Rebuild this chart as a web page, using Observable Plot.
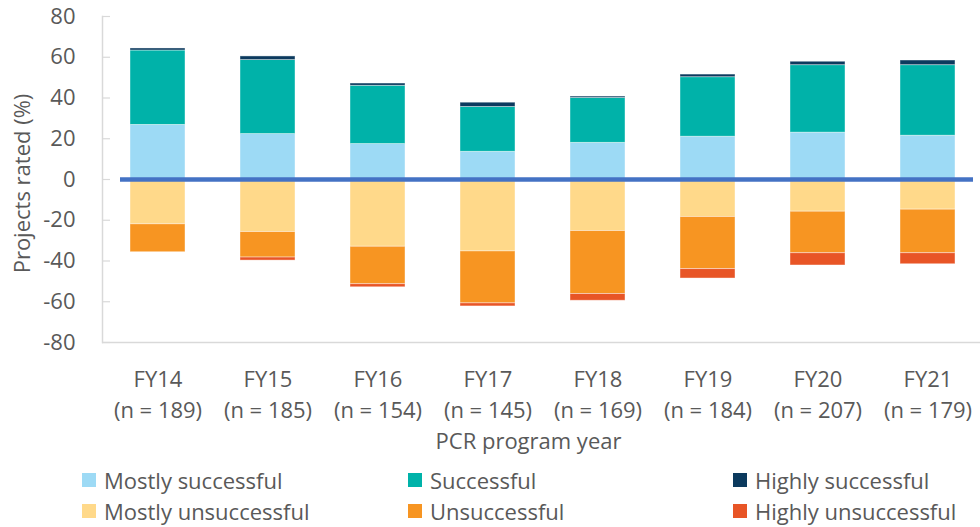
<!DOCTYPE html>
<html>
<head>
<meta charset="utf-8">
<script src="https://cdn.jsdelivr.net/npm/d3@7"></script>
<script src="https://cdn.jsdelivr.net/npm/@observablehq/plot@0.6"></script>
<style>
  html, body { margin: 0; padding: 0; background: #fff; }
  #wrap { position: relative; width: 980px; height: 527px; font-family: "Open Sans", sans-serif; color: #595959; }
  .item { position: absolute; display: flex; align-items: center; height: 30px; font-size: 22px; white-space: nowrap; }
  .sw { width: 14px; height: 14px; margin-right: 8px; }
</style>
</head>
<body>
<div id="wrap"></div>
<script>
const years = ["FY14", "FY15", "FY16", "FY17", "FY18", "FY19", "FY20", "FY21"];
const sampleSizes = [189, 185, 154, 145, 169, 184, 207, 179];

const mostlySuccessful   = [26.8, 22.3, 17.4, 13.6, 18.0, 21.0, 23.0, 21.5];
const successful         = [36.5, 36.3, 28.6, 22.0, 22.0, 29.2, 33.1, 34.6];
const highlySuccessful   = [1.0, 1.8, 1.1, 2.1, 0.7, 1.3, 1.7, 2.3];
const mostlyUnsuccessful = [22.0, 25.8, 33.0, 35.3, 25.3, 18.4, 15.8, 14.8];
const unsuccessful       = [13.7, 12.5, 18.4, 25.5, 30.9, 25.6, 20.4, 21.4];
const highlyUnsuccessful = [0.0, 1.5, 1.5, 1.5, 3.3, 4.6, 6.0, 5.4];

const seriesNames = ["Mostly successful", "Successful", "Highly successful",
                     "Mostly unsuccessful", "Unsuccessful", "Highly unsuccessful"];
const seriesColors = ["#9DDAF5", "#00B2A9", "#0C3A5E", "#FFD98A", "#F79522", "#E85526"];
const seriesValues = [mostlySuccessful, successful, highlySuccessful,
                      mostlyUnsuccessful, unsuccessful, highlyUnsuccessful];
const seriesSign = [1, 1, 1, -1, -1, -1];

const yTicks = [-80, -60, -40, -20, 0, 20, 40, 60, 80];
const yTitle = "Projects rated (%)";
const xTitle = "PCR program year";

const rows = [];
seriesNames.forEach((s, i) => {
  years.forEach((y, j) => rows.push({year: y, series: s, value: seriesSign[i] * seriesValues[i][j]}));
});

const FS = 22;

const chart = Plot.plot({
  width: 980,
  height: 462,
  marginLeft: 102,
  marginRight: 0,
  marginTop: 16,
  marginBottom: 120,
  style: {fontFamily: "'Open Sans', sans-serif", color: "#595959", background: "white", overflow: "hidden"},
  x: {domain: years, range: [99.6, 985.3], paddingInner: 0.5, paddingOuter: 0.25},
  y: {domain: [-80, 80]},
  color: {domain: seriesNames, range: seriesColors},
  marks: [
    Plot.frame({anchor: "left", stroke: "#d9d9d9", strokeWidth: 1.5}),
    Plot.ruleY([-80], {stroke: "#d9d9d9", strokeWidth: 1.5}),
    Plot.ruleY(yTicks, {stroke: "#d9d9d9", strokeWidth: 1.2, insetRight: 980 - 102 - 8}),
    Plot.axisY({ticks: yTicks, tickSize: 0, tickPadding: 27, fontSize: FS, label: null,
      tickFormat: d => String(d)}),
    Plot.axisX({tickSize: 0, tickPadding: 22, fontSize: FS, lineHeight: 1.42, label: null,
      tickFormat: d => `${d}\n(n = ${sampleSizes[years.indexOf(d)]})`}),
    Plot.barY(rows, Plot.stackY({x: "year", y: "value", fill: "series", order: seriesNames,
      stroke: "white", strokeOpacity: 0.5, strokeWidth: 0.8})),
    Plot.ruleY([0], {stroke: "#4472C4", strokeWidth: 4.5, insetLeft: 18, insetRight: 7}),
    Plot.text([yTitle], {frameAnchor: "left", textAnchor: "middle", lineAnchor: "middle", rotate: -90, dx: -80, dy: 4, fontSize: FS, fill: "#595959"}),
    Plot.text([xTitle], {frameAnchor: "bottom", lineAnchor: "middle", dy: 99, dx: -13, fontSize: FS, fill: "#595959"})
  ]
});

const wrap = document.getElementById("wrap");
wrap.appendChild(chart);

const legendLefts = [82, 408, 733];
const legendTops = [465, 496];
seriesNames.forEach((s, i) => {
  const item = document.createElement("div");
  item.className = "item";
  item.style.left = legendLefts[i % 3] + "px";
  item.style.top = legendTops[Math.floor(i / 3)] + "px";
  const sw = document.createElement("span");
  sw.className = "sw";
  sw.style.background = seriesColors[i];
  const t = document.createElement("span");
  t.textContent = s;
  item.appendChild(sw);
  item.appendChild(t);
  wrap.appendChild(item);
});
</script>
</body>
</html>
